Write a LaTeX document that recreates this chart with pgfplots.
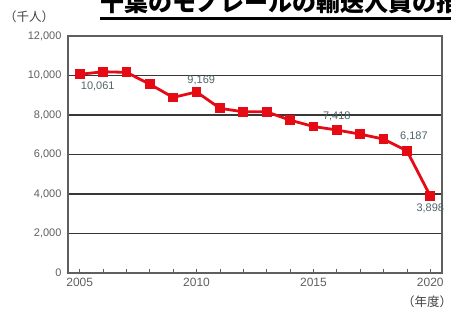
\documentclass[border=0pt]{standalone}
\usepackage{pgfplots}
\pgfplotsset{compat=1.18}
\usepackage{fontspec}
\setmainfont{Liberation Sans}
\newfontfamily\jp{Noto Sans CJK JP}
\definecolor{lred}{RGB}{230,10,20}
\definecolor{tickgray}{RGB}{95,95,95}
\definecolor{lblcol}{RGB}{80,100,105}
\definecolor{gridc}{RGB}{55,55,55}
\begin{document}
\begin{tikzpicture}[x=1pt,y=1pt]
\useasboundingbox (0,0) rectangle (451,-309);
\clip (0,0) rectangle (451,-309);
% title (cut off at top, as in the reference)
\node[anchor=base west, inner sep=0pt, font=\jp\fontsize{24}{24}\selectfont\bfseries] at (100,-11) {千葉のモノレールの輸送人員の推移};
\draw[line width=2.5pt, black] (100,-18.5) -- (460,-18.5);
\node[anchor=west, inner sep=0pt, font=\jp\fontsize{12.5}{12}\selectfont, text=black!75] at (4,-17) {（千人）};
\node[anchor=west, inner sep=0pt, font=\jp\fontsize{12.5}{12}\selectfont, text=black!75] at (402,-302) {（年度）};
\begin{axis}[
  scale only axis,
  width=374pt, height=237pt,
  at={(68pt,-273pt)}, anchor=south west,
  xmin=2004.5, xmax=2020.5,
  ymin=0, ymax=12000,
  xtick={2005,2010,2015,2020},
  minor xtick={2006,2007,2008,2009,2011,2012,2013,2014,2016,2017,2018,2019},
  ytick={0,2000,4000,6000,8000,10000,12000},
  ymajorgrids,
  major grid style={gridc, line width=1.2pt},
  axis line style={tickgray, line width=1.2pt},
  tick style={tickgray, line width=0.8pt},
  xtick pos=bottom, ytick style={draw=none},
  xtick align=inside,
  major tick length=4pt, minor tick length=4pt,
  xticklabel style={font=\fontsize{12}{12}\selectfont, text=tickgray, yshift=-2pt},
  yticklabel style={font=\fontsize{11}{12}\selectfont, text=tickgray, xshift=-3pt},
  x tick label style={/pgf/number format/.cd, set thousands separator={}},
  y tick label style={/pgf/number format/.cd, 1000 sep={,}},
  /pgf/number format/assume math mode=true,
  scaled y ticks=false,
  clip=false,
]
\addplot[lred, line width=2.8pt, mark=square*, mark size=3.5pt, mark options={solid, fill=lred, draw=lred}]
coordinates {
(2005,10061) (2006,10190) (2007,10160) (2008,9560) (2009,8890) (2010,9169)
(2011,8340) (2012,8160) (2013,8160) (2014,7740) (2015,7418) (2016,7240)
(2017,7030) (2018,6780) (2019,6187) (2020,3898)
};
\begin{scope}[every node/.style={font=\fontsize{11}{12}\selectfont, text=lblcol, inner sep=1pt}]
\node[anchor=north west] at (axis cs:2005,9750) {10,061};
\node[anchor=south] at (axis cs:2010.2,9450) {9,169};
\node[anchor=south] at (axis cs:2016.0,7620) {7,418};
\node[anchor=south] at (axis cs:2019.3,6650) {6,187};
\node[anchor=north] at (axis cs:2020,3550) {3,898};
\end{scope}
\end{axis}
\end{tikzpicture}
\end{document}
